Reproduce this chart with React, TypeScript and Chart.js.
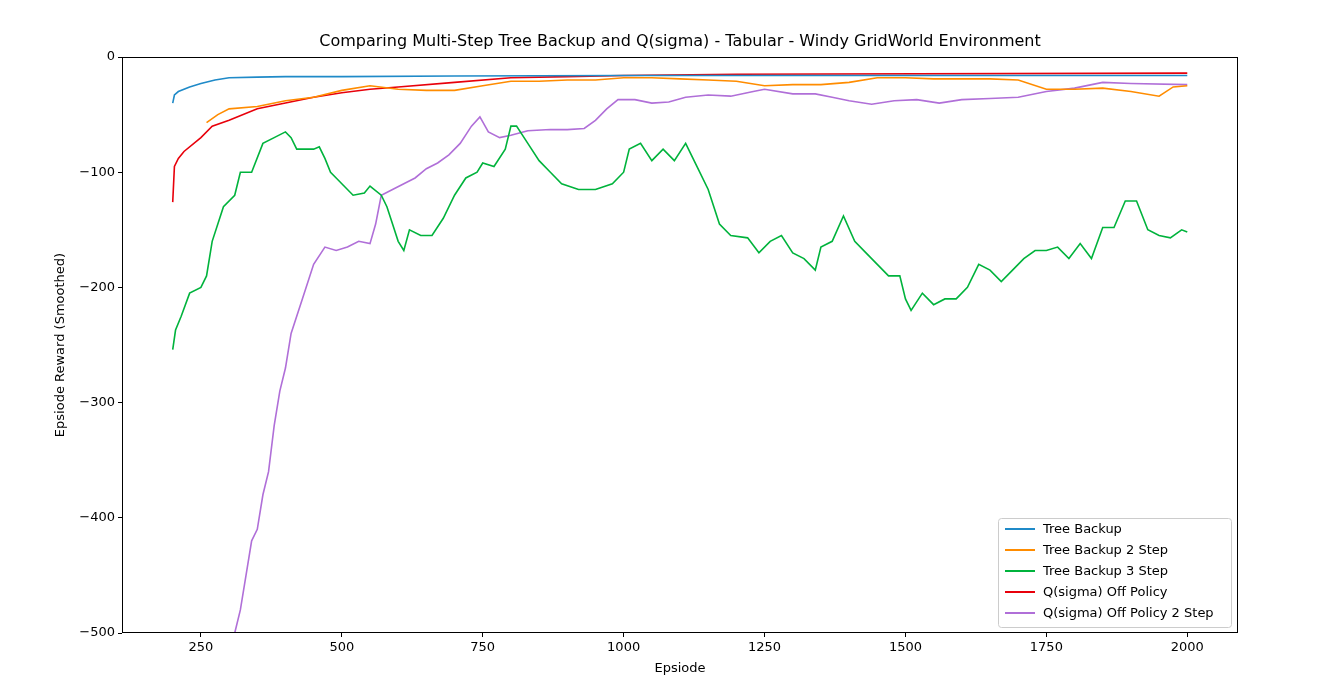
import { useEffect, useRef } from "react";
import { Chart, registerables } from "chart.js";

Chart.register(...registerables);

const blueX = [200, 203, 210, 230, 250, 275, 300, 350, 400, 500, 700, 1000, 1500, 2000];
const blueY = [-40, -33, -30, -26, -23, -20, -18, -17.5, -17, -17, -16.5, -16, -16, -16];

const orangeX = [260, 280, 300, 350, 400, 450, 500, 550, 600, 650, 700, 750, 800, 850, 900, 950, 1000, 1050, 1100, 1150, 1200, 1250, 1300, 1350, 1400, 1450, 1500, 1550, 1600, 1650, 1700, 1750, 1800, 1850, 1900, 1950, 1975, 2000];
const orangeY = [-57, -50, -45, -43, -38, -35, -29, -25, -28, -29, -29, -25, -21, -21, -20, -20, -18, -18, -19, -20, -21, -25, -24, -24, -22, -18, -18, -19, -19, -19, -20, -28, -28, -27, -30, -34, -26, -25];

const redX = [200, 203, 210, 220, 250, 270, 300, 350, 400, 450, 500, 550, 600, 700, 800, 900, 1000, 1200, 2000];
const redY = [-126, -95, -88, -82, -70, -60, -55, -45, -40, -35, -31, -28, -26, -22, -18, -17, -16, -15, -14];

const greenX = [200, 205, 215, 230, 250, 260, 270, 290, 310, 320, 340, 360, 380, 400, 410, 420, 450, 460, 470, 480, 490, 500, 520, 540, 550, 570, 580, 590, 600, 610, 620, 640, 660, 680, 700, 720, 740, 750, 770, 790, 800, 810, 830, 850, 870, 890, 920, 950, 980, 1000, 1010, 1030, 1050, 1070, 1090, 1110, 1130, 1150, 1170, 1190, 1220, 1240, 1260, 1280, 1300, 1320, 1340, 1350, 1370, 1390, 1410, 1430, 1450, 1470, 1490, 1500, 1510, 1530, 1550, 1570, 1590, 1610, 1630, 1650, 1670, 1690, 1710, 1730, 1750, 1770, 1790, 1810, 1830, 1850, 1870, 1890, 1910, 1930, 1950, 1970, 1990, 2000];
const greenY = [-254, -237, -225, -205, -200, -190, -160, -130, -120, -100, -100, -75, -70, -65, -70, -80, -80, -78, -88, -100, -105, -110, -120, -118, -112, -120, -130, -145, -160, -168, -150, -155, -155, -140, -120, -105, -100, -92, -95, -80, -60, -60, -75, -90, -100, -110, -115, -115, -110, -100, -80, -75, -90, -80, -90, -75, -95, -115, -145, -155, -157, -170, -160, -155, -170, -175, -185, -165, -160, -138, -160, -170, -180, -190, -190, -210, -220, -205, -215, -210, -210, -200, -180, -185, -195, -185, -175, -168, -168, -165, -175, -162, -175, -148, -148, -125, -125, -150, -155, -157, -150, -152];

const purpleX = [310, 320, 330, 340, 350, 360, 370, 380, 390, 400, 410, 430, 450, 470, 490, 510, 530, 550, 560, 570, 590, 610, 630, 650, 670, 690, 710, 730, 745, 760, 780, 800, 830, 870, 900, 930, 950, 970, 990, 1020, 1050, 1080, 1110, 1150, 1190, 1230, 1250, 1300, 1340, 1370, 1400, 1440, 1480, 1520, 1560, 1600, 1650, 1700, 1750, 1800, 1850, 1900, 2000];
const purpleY = [-500, -480, -450, -420, -410, -380, -360, -320, -290, -270, -240, -210, -180, -165, -168, -165, -160, -162, -145, -120, -115, -110, -105, -97, -92, -85, -75, -60, -52, -65, -70, -68, -64, -63, -63, -62, -55, -45, -37, -37, -40, -39, -35, -33, -34, -30, -28, -32, -32, -35, -38, -41, -38, -37, -40, -37, -36, -35, -30, -27, -22, -23, -24];

const seriesNames = ["Tree Backup", "Tree Backup 2 Step", "Tree Backup 3 Step", "Q(sigma) Off Policy", "Q(sigma) Off Policy 2 Step"];
const seriesColors = ["#1f8ac8", "#ff8c00", "#00b33c", "#e8000b", "#b06fd8"];
const seriesXs = [blueX, orangeX, greenX, redX, purpleX];
const seriesYs = [blueY, orangeY, greenY, redY, purpleY];
const xTicks = [250, 500, 750, 1000, 1250, 1500, 1750, 2000];

const FONT = "'DejaVu Sans', sans-serif";

const decor = {
  id: "decor",
  afterDraw(chart: Chart) {
    const ctx = chart.ctx;
    const a = chart.chartArea;
    ctx.save();
    ctx.strokeStyle = "#000";
    ctx.lineWidth = 1;
    ctx.strokeRect(a.left + 0.5, a.top + 0.5, a.right - a.left - 1, a.bottom - a.top - 1);
    ctx.fillStyle = "#000";
    ctx.textAlign = "center";
    ctx.textBaseline = "middle";
    ctx.font = `16px ${FONT}`;
    ctx.fillText("Comparing Multi-Step Tree Backup and Q(sigma) - Tabular - Windy GridWorld Environment", (a.left + a.right) / 2, 42);
    ctx.font = `13px ${FONT}`;
    ctx.fillText("Epsiode", (a.left + a.right) / 2, 669);
    ctx.translate(61, (a.top + a.bottom) / 2);
    ctx.rotate(-Math.PI / 2);
    ctx.fillText("Epsiode Reward (Smoothed)", 0, 0);
    ctx.restore();

    // legend
    ctx.save();
    const lx = 998, ly = 518, lw = 233, lh = 109;
    ctx.fillStyle = "rgba(255,255,255,0.8)";
    ctx.strokeStyle = "#cccccc";
    ctx.beginPath();
    ctx.roundRect(lx + 0.5, ly + 0.5, lw, lh, 3);
    ctx.fill();
    ctx.stroke();
    ctx.font = `13px ${FONT}`;
    ctx.textBaseline = "middle";
    seriesNames.forEach((n, i) => {
      const y = 529 + i * 21;
      ctx.strokeStyle = seriesColors[i];
      ctx.lineWidth = 2;
      ctx.beginPath();
      ctx.moveTo(1005, y);
      ctx.lineTo(1035, y);
      ctx.stroke();
      ctx.fillStyle = "#000";
      ctx.fillText(n, 1043, y + 1);
    });
    ctx.restore();
  },
};

export default function App() {
  const canvasRef = useRef<HTMLCanvasElement>(null);
  const chartRef = useRef<Chart | null>(null);

  useEffect(() => {
    if (!canvasRef.current) return;
    chartRef.current?.destroy();
    chartRef.current = new Chart(canvasRef.current, {
      type: "line",
      data: {
        datasets: seriesNames.map((name, i) => ({
          label: name,
          data: seriesXs[i].map((x, k) => ({ x, y: seriesYs[i][k] })),
          borderColor: seriesColors[i],
          borderWidth: 1.6,
          pointRadius: 0,
          tension: 0,
          fill: false,
        })),
      },
      options: {
        animation: false,
        responsive: true,
        maintainAspectRatio: false,
        layout: { padding: { top: 57, right: 91, left: 0, bottom: 0 } },
        plugins: { legend: { display: false }, tooltip: { enabled: false } },
        scales: {
          x: {
            type: "linear",
            min: 110,
            max: 2090,
            afterFit: (s: any) => { s.height = 65; },
            afterBuildTicks: (s: any) => {
              s.ticks = xTicks.map((v) => ({ value: v }));
            },
            grid: { drawOnChartArea: false, tickLength: 4, color: "#000" },
            border: { display: false },
            ticks: {
              color: "#000",
              font: { family: FONT, size: 13 },
              padding: 3,
              maxRotation: 0,
              callback: (v: any) => String(v),
            },
          },
          y: {
            min: -500,
            max: 0,
            afterFit: (s: any) => { s.width = 122; },
            grid: { drawOnChartArea: false, tickLength: 4, color: "#000" },
            border: { display: false },
            ticks: {
              stepSize: 100,
              color: "#000",
              font: { family: FONT, size: 13 },
              padding: 3,
              callback: (v: any) => String(v).replace("-", "\u2212"),
            },
          },
        },
      },
      plugins: [decor],
    });
    return () => { chartRef.current?.destroy(); };
  }, []);

  return (
    <div style={{ position: "fixed", left: 0, top: 0, width: 1329, height: 698, background: "#fff" }}>
      <canvas ref={canvasRef} />
    </div>
  );
}
